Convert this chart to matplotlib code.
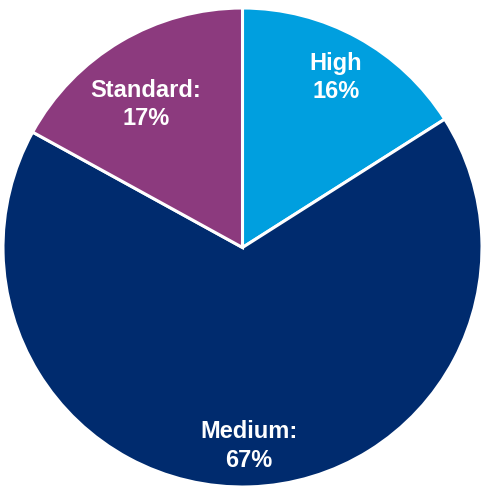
import matplotlib
matplotlib.use("Agg")
import matplotlib.pyplot as plt
import numpy as np

# Share by category
categories = ["High", "Medium", "Standard"]
shares = [16, 67, 17]
label_text = ["High\n16%", "Medium:\n67%", "Standard:\n17%"]
colors = ["#009FDF", "#002B6E", "#8C3A7E"]

fig = plt.figure(figsize=(4.87, 4.91), dpi=100)
ax = fig.add_axes([3 / 487, 4 / 491, 479 / 487, 479 / 491])

wedges, _ = ax.pie(
    shares,
    colors=colors,
    startangle=90,
    counterclock=False,
    radius=1.0,
    wedgeprops=dict(edgecolor="white", linewidth=2.2),
)

# Label placement (radius as fraction of pie, angular nudge in degrees)
placement = {"High": (0.81, 0.0), "Medium": (0.83, 0.0), "Standard": (0.72, 3.5)}

for w, cat, txt in zip(wedges, categories, label_text):
    mid = np.deg2rad((w.theta1 + w.theta2) / 2 + placement[cat][1])
    r = placement[cat][0]
    ax.text(r * np.cos(mid), r * np.sin(mid), txt, ha="center", va="center",
            color="white", fontsize=17, fontweight="bold",
            family=["Liberation Sans", "DejaVu Sans"], linespacing=1.3)

ax.set_xlim(-1, 1)
ax.set_ylim(-1, 1)
ax.set_aspect("equal")
ax.axis("off")

fig.savefig("out.png", dpi=100)
